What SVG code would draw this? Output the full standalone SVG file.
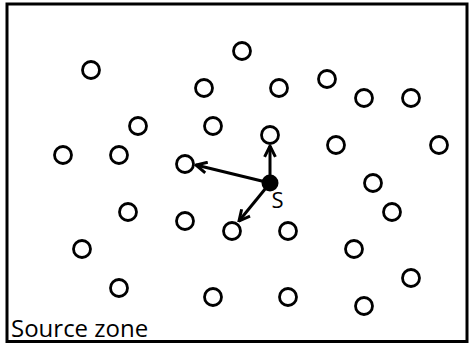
<svg xmlns="http://www.w3.org/2000/svg" width="472" height="344" viewBox="0 0 472 344">
<style>
.n{fill:#fff;stroke:#000;stroke-width:2.8}
.c{stroke:#000;stroke-width:3;fill:none}
.t{font-family:"Open Sans","Liberation Sans",sans-serif;fill:#000}
</style>
<defs>
<marker id="ah" viewBox="0 0 10 10" refX="9" refY="5" markerWidth="4.5" markerHeight="4.5" orient="auto" markerUnits="strokeWidth">
<path d="M1,1 L9,5 L1,9" fill="none" stroke="#000" stroke-width="2.2" stroke-linejoin="miter"/>
</marker>
</defs>
<rect x="7" y="4" width="460" height="337.5" fill="#fff" stroke="#000" stroke-width="3"/>
<g id="nodes">
<circle id="n1" class="n" cx="242" cy="51" r="8.5"/>
<circle id="n2" class="n" cx="91" cy="70" r="8.5"/>
<circle id="n3" class="n" cx="204" cy="88" r="8.5"/>
<circle id="n4" class="n" cx="279" cy="88" r="8.5"/>
<circle id="n5" class="n" cx="327" cy="79" r="8.5"/>
<circle id="n6" class="n" cx="364" cy="98" r="8.5"/>
<circle id="n7" class="n" cx="411" cy="98" r="8.5"/>
<circle id="n8" class="n" cx="138" cy="126" r="8.5"/>
<circle id="n9" class="n" cx="213" cy="126" r="8.5"/>
<circle id="n10" class="n" cx="270" cy="135" r="8.5"/>
<circle id="n11" class="n" cx="336" cy="145" r="8.5"/>
<circle id="n12" class="n" cx="439" cy="145" r="8.5"/>
<circle id="n13" class="n" cx="63" cy="155" r="8.5"/>
<circle id="n14" class="n" cx="119" cy="155" r="8.5"/>
<circle id="n15" class="n" cx="185" cy="164" r="8.5"/>
<circle id="n16" class="n" cx="373" cy="183" r="8.5"/>
<circle id="n17" class="n" cx="128" cy="212" r="8.5"/>
<circle id="n18" class="n" cx="392" cy="212" r="8.5"/>
<circle id="n19" class="n" cx="185" cy="221" r="8.5"/>
<circle id="n20" class="n" cx="232" cy="231" r="8.5"/>
<circle id="n21" class="n" cx="288" cy="231" r="8.5"/>
<circle id="n22" class="n" cx="82" cy="249" r="8.5"/>
<circle id="n23" class="n" cx="354" cy="249" r="8.5"/>
<circle id="n24" class="n" cx="411" cy="278" r="8.5"/>
<circle id="n25" class="n" cx="119" cy="288" r="8.5"/>
<circle id="n26" class="n" cx="213" cy="297" r="8.5"/>
<circle id="n27" class="n" cx="288" cy="297" r="8.5"/>
<circle id="n28" class="n" cx="364" cy="306" r="8.5"/>
<g id="S">
<circle cx="270" cy="183" r="8.5" fill="#000"/>
<text class="t" x="277.5" y="207.5" font-size="22" text-anchor="middle">S</text>
</g>
</g>
<g id="connectors">
<line class="c" x1="270" y1="183" x2="270" y2="146" marker-end="url(#ah)"/>
<line class="c" x1="270" y1="183" x2="196" y2="165" marker-end="url(#ah)"/>
<line class="c" x1="270" y1="183" x2="239" y2="221" marker-end="url(#ah)"/>
</g>
<text class="t" x="11" y="337" font-size="24">Source zone</text>
</svg>
